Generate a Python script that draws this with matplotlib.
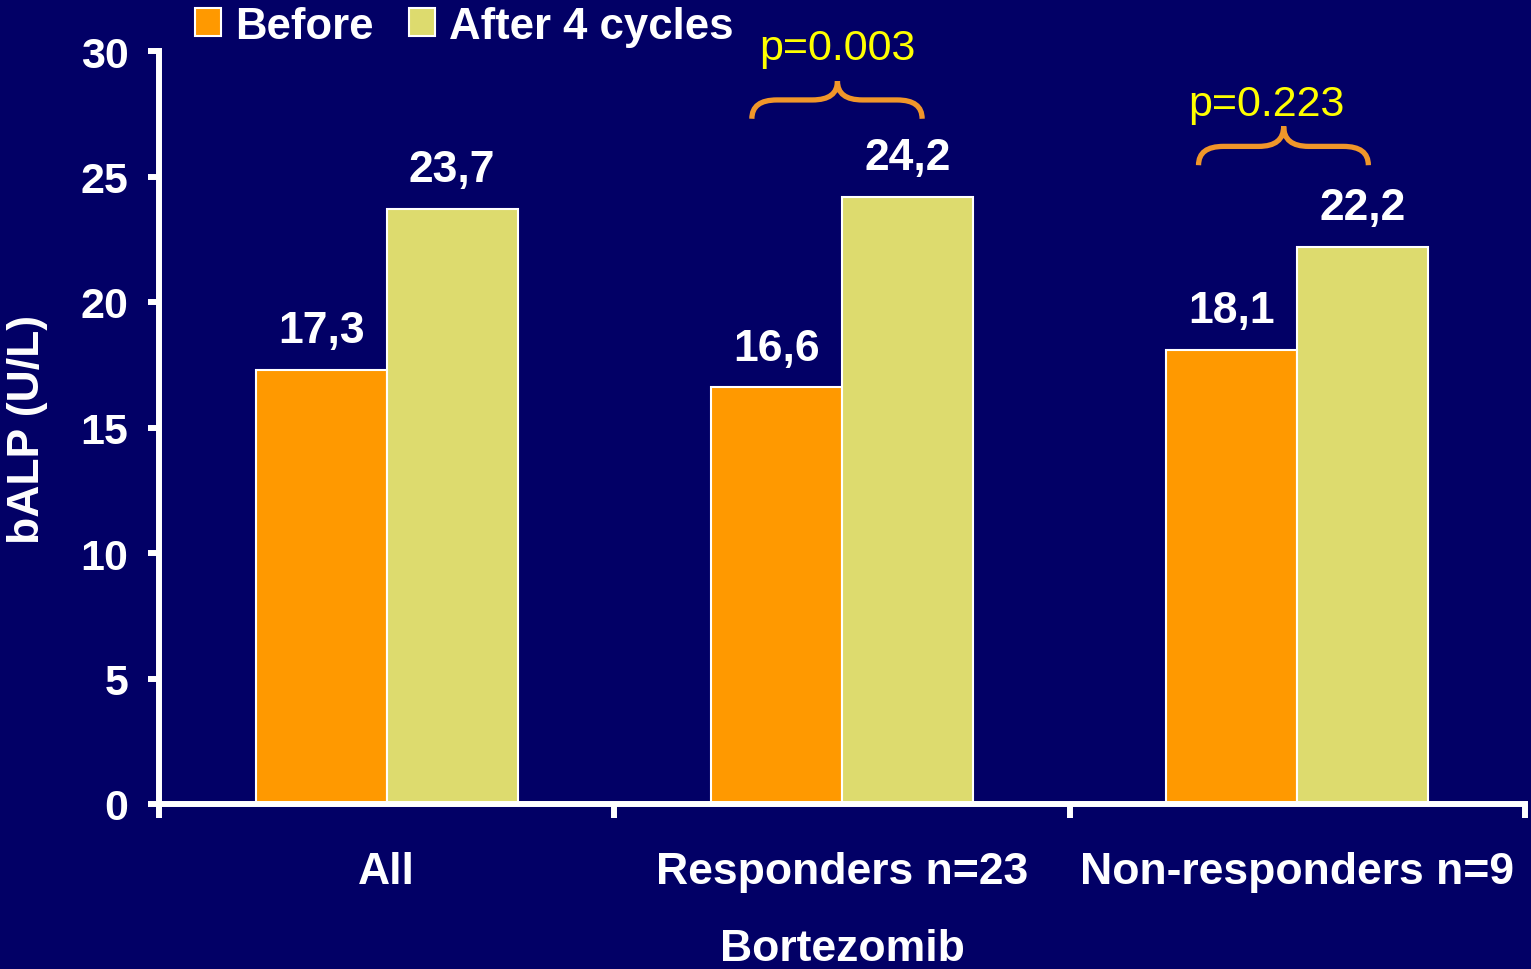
import numpy as np
import matplotlib.pyplot as plt
from matplotlib.path import Path
from matplotlib.patches import PathPatch

# bALP before / after bortezomib
groups = ["All", "Responders n=23", "Non-responders n=9"]
before = [17.3, 16.6, 18.1]
after = [23.7, 24.2, 22.2]
series_names = ["Before", "After 4 cycles"]
pvalues = {1: "p=0.003", 2: "p=0.223"}

navy = "#020066"
orange = "#FF9900"
olive = "#DDDB6E"

plt.rcParams["font.family"] = ["Liberation Sans", "DejaVu Sans"]
plt.rcParams["font.weight"] = "bold"

fig = plt.figure(figsize=(15.31, 9.70), dpi=100, facecolor=navy)
ax = fig.add_axes([159 / 1531, 165 / 970, 1366 / 1531, 753 / 970])
ax.set_facecolor(navy)

x = np.arange(len(groups))
w = 0.2875
b1 = ax.bar(x - w / 2, before, w, color=orange, edgecolor="white", linewidth=1.5,
            label=series_names[0], zorder=2)
b2 = ax.bar(x + w / 2, after, w, color=olive, edgecolor="white", linewidth=1.5,
            label=series_names[1], zorder=2)

# value labels above the bars
for bars, vals in ((b1, before), (b2, after)):
    for rect, v in zip(bars, vals):
        ax.annotate(f"{v:.1f}".replace(".", ","),
                    (rect.get_x() + rect.get_width() / 2, v),
                    xytext=(0, 20), textcoords="offset points",
                    ha="center", va="baseline", color="white",
                    fontsize=32, fontweight="bold")


def brace(ax, x0, x1, xm, yb, yh, yt, r=0.055):
    verts = [(x0, yb), (x0, yh), (x0 + r, yh), (xm - r, yh), (xm, yh), (xm, yt),
             (xm, yh), (xm + r, yh), (x1 - r, yh), (x1, yh), (x1, yb)]
    codes = [Path.MOVETO, Path.CURVE3, Path.CURVE3, Path.LINETO, Path.CURVE3, Path.CURVE3,
             Path.CURVE3, Path.CURVE3, Path.LINETO, Path.CURVE3, Path.CURVE3]
    ax.add_patch(PathPatch(Path(verts, codes), facecolor="none", edgecolor="#F0962A",
                           linewidth=3.8, capstyle="butt", clip_on=False, zorder=3))


brace(ax, 1 - 0.198, 1 + 0.176, 1 - 0.01, 27.3, 28.05, 28.8)
brace(ax, 2 - 0.217, 2 + 0.156, 2 - 0.03, 25.45, 26.2, 27.0)
ax.text(1 - 0.01, 30.1, pvalues[1], color="#FFFF00", fontsize=31,
        fontweight="normal", ha="center", va="center")
ax.text(2 - 0.067, 27.9, pvalues[2], color="#FFFF00", fontsize=31,
        fontweight="normal", ha="center", va="center")

ax.set_xlim(-0.5, 2.5)
ax.set_ylim(0, 30)
ax.set_yticks(np.arange(0, 31, 5))
ax.set_xticks(np.arange(-0.5, 2.6, 1))
ax.set_xticklabels([])
ax.set_xticks(x, minor=True)
ax.set_xticklabels(groups, minor=True)
ax.tick_params(axis="x", which="major", length=10, width=4.3, color="white", direction="out")
ax.tick_params(axis="x", which="minor", length=0, pad=34, labelsize=32, labelcolor="white")
ax.tick_params(axis="y", length=8, width=4.3, color="white", direction="out",
               pad=14, labelsize=31, labelcolor="white")

for s in ("top", "right"):
    ax.spines[s].set_visible(False)
for s in ("left", "bottom"):
    ax.spines[s].set_color("white")
    ax.spines[s].set_linewidth(4.3)
ax.spines["left"].set_bounds(0, 30)

fig.text(28 / 1531, 1 - 429 / 970, "bALP (U/L)", rotation=90, ha="center", va="center",
         color="white", fontsize=32, fontweight="bold")
fig.text(842 / 1531, 1 - 950 / 970, "Bortezomib", ha="center", va="center",
         color="white", fontsize=32, fontweight="bold")

leg = fig.legend(loc="upper left", bbox_to_anchor=(188 / 1531, 1.0), ncol=2, frameon=False,
                 fontsize=31.5, handlelength=0.6, handleheight=0.6, handletextpad=0.32,
                 columnspacing=0.82, borderpad=0.15, borderaxespad=0)
for t in leg.get_texts():
    t.set_color("white")

fig.savefig("out.png", dpi=100, facecolor=navy)
